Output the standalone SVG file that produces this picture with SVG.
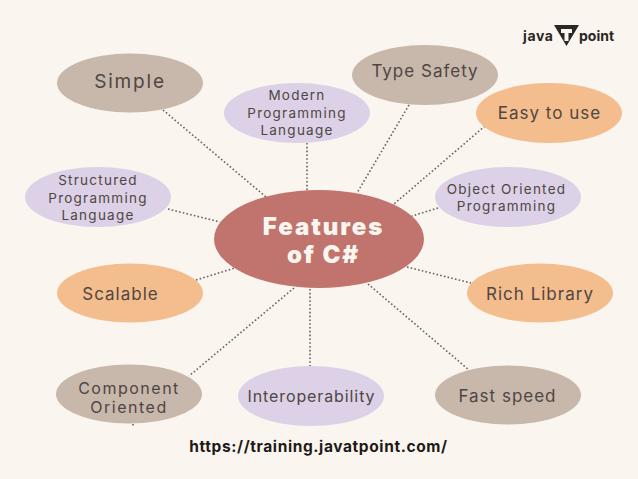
<svg xmlns="http://www.w3.org/2000/svg" width="638" height="479" viewBox="0 0 638 479">
<style>
.c{stroke:#6b625c;stroke-width:1.6;stroke-dasharray:1.6 2.2;fill:none}
.t{font-family:"Inter","Open Sans",sans-serif;fill:#4f4643;text-anchor:middle;letter-spacing:1px}
.tan{fill:#c8b7ab}.lil{fill:#dcd1e6}.org{fill:#f3bd8d}
.s18{font-size:17px}.s17{font-size:16px;letter-spacing:1.500px}.s14{font-size:13.500px;letter-spacing:1.250px}
.h{font-family:"Inter",sans-serif;font-weight:900;font-size:24px;letter-spacing:1.900px;text-anchor:middle;fill:#faf5ef}
.l{font-family:"Inter",sans-serif;font-weight:700;font-size:14px;fill:#2b2725}
</style>
<rect width="638" height="479" fill="#faf5ef"/>
<g id="connectors">
<line class="c" x1="163" y1="110" x2="266" y2="197"/>
<line class="c" x1="307" y1="143" x2="307" y2="190"/>
<line class="c" x1="409" y1="105" x2="357" y2="193"/>
<line class="c" x1="485" y1="126" x2="394" y2="204"/>
<line class="c" x1="438" y1="208" x2="412" y2="216"/>
<line class="c" x1="168" y1="209" x2="220" y2="222"/>
<line class="c" x1="196" y1="280" x2="235" y2="268"/>
<line class="c" x1="407" y1="267" x2="471" y2="283"/>
<line class="c" x1="368" y1="284" x2="469" y2="370"/>
<line class="c" x1="310" y1="289" x2="310" y2="367"/>
<line class="c" x1="294" y1="288" x2="189" y2="376"/>
<line class="c" x1="133" y1="424" x2="133" y2="426"/>
</g>
<g id="center"><ellipse cx="319" cy="239" rx="105" ry="49" fill="#c1746d"/>
<text class="h" x="323.500" y="235">Features</text>
<text class="h" x="323.500" y="263">of C#</text></g>
<g id="simple"><ellipse class="tan" cx="130" cy="83" rx="73" ry="29.500"/><text class="t" x="130" y="88" font-size="19" style="letter-spacing:1.800px">Simple</text></g>
<g id="modern"><ellipse class="lil" cx="297" cy="113" rx="73" ry="30"/><text class="t s14" x="297" y="100">Modern</text><text class="t s14" x="297" y="118">Programming</text><text class="t s14" x="297" y="135">Language</text></g>
<g id="type-safety"><ellipse class="tan" cx="425" cy="75" rx="73" ry="30"/><text class="t s18" x="425" y="77">Type Safety</text></g>
<g id="easy"><ellipse class="org" cx="549" cy="113" rx="73" ry="30"/><text class="t s18" x="549.500" y="119">Easy to use</text></g>
<g id="structured"><ellipse class="lil" cx="98" cy="197" rx="73" ry="30"/><text class="t s14" x="98" y="185">Structured</text><text class="t s14" x="98" y="203">Programming</text><text class="t s14" x="98" y="220">Language</text></g>
<g id="oop"><ellipse class="lil" cx="508" cy="197" rx="73" ry="30"/><text class="t s14" x="506.500" y="194">Object Oriented</text><text class="t s14" x="506.500" y="211">Programming</text></g>
<g id="scalable"><ellipse class="org" cx="130" cy="293" rx="73" ry="29.500"/><text class="t s18" x="120.500" y="300">Scalable</text></g>
<g id="rich"><ellipse class="org" cx="540" cy="293" rx="73" ry="29.500"/><text class="t s18" x="540" y="300">Rich Library</text></g>
<g id="component"><ellipse class="tan" cx="129" cy="394" rx="73" ry="29.500"/><text class="t s17" x="129" y="394">Component</text><text class="t s17" x="129" y="413">Oriented</text></g>
<g id="interop"><ellipse class="lil" cx="311" cy="396" rx="73" ry="30"/><text class="t s17" x="311.500" y="402" style="letter-spacing:.9px">Interoperability</text></g>
<g id="fast"><ellipse class="tan" cx="508" cy="395" rx="73" ry="29.500"/><text class="t s18" x="507.500" y="402">Fast speed</text></g>
<g id="logo"><polygon points="554,25 579,25 566.500,46" fill="#2b2725"/><rect x="564.500" y="29" width="4" height="12" fill="#faf5ef"/><rect x="561" y="29" width="11" height="4" fill="#faf5ef"/>
<text class="l" x="523" y="41" style="letter-spacing:.6px">java</text>
<text class="l" x="579" y="41">point</text></g>
<text x="318.500" y="452" text-anchor="middle" font-family="Inter,sans-serif" font-weight="700" font-size="15.500" letter-spacing=".6" fill="#1d1a18">https://training.javatpoint.com/</text>
</svg>
